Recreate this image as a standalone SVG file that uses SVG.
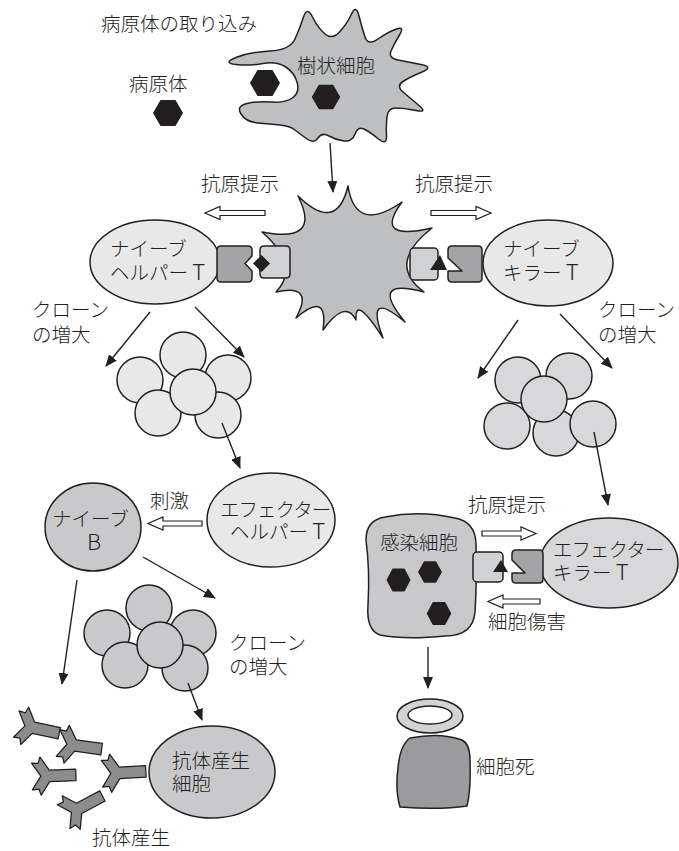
<svg xmlns="http://www.w3.org/2000/svg" xmlns:xlink="http://www.w3.org/1999/xlink" width="679" height="851" viewBox="0 0 679 851">
  <style>
    .ol { stroke: #231f20; stroke-width: 1.5; stroke-linejoin: round; }
    .lt { fill: #e8e8e9; }
    .md { fill: #d8d8da; }
    .gr { fill: #c9c9cb; }
    .apc { fill: #bebfc1; }
    .rec { fill: #a4a4a6; }
    .box { fill: #d0d1d3; }
    .blk { fill: #231f20; }
    .hollow { fill: #ffffff; stroke: #231f20; stroke-width: 1.2; }
    .link { fill: none; stroke: #231f20; stroke-width: 1.4; marker-end: url(#ah); }
    .t { font-family: "Noto Sans CJK JP", "Noto Sans CJK SC", sans-serif; font-size: 19.5px; font-weight: 300; fill: #231f20; }
    .lat { font-size: 22px; }
    .narrow { letter-spacing: -1px; }
  </style>
  <defs>
    <marker id="ah" viewBox="0 0 12 10" refX="11" refY="5" markerWidth="12" markerHeight="10" orient="auto" markerUnits="userSpaceOnUse">
      <path d="M0,0 L12,5 L0,10 Z" fill="#231f20"/>
    </marker>
    <path id="hex" d="M-15,0 L-7.5,-13 L7.5,-13 L15,0 L7.5,13 L-7.5,13 Z" fill="#231f20"/>
    <path id="ab" d="M26,-5 L3,-5 L-4.7,-16.6 L-6.5,-11.25 L-12.2,-11.7 L-4.5,0 L-12.2,11.7 L-6.5,11.25 L-4.7,16.6 L3,5 L26,5 Z" fill="#8c8c8e" stroke="#231f20" stroke-width="1.1" stroke-linejoin="round"/>
  </defs>

  <!-- pathogen uptake -->
  <g id="uptake-label"><text class="t" x="101" y="31">病原体の取り込み</text></g>
  <g id="pathogen">
    <text class="t" x="129" y="91">病原体</text>
    <use href="#hex" transform="translate(168,113)"/>
  </g>

  <!-- dendritic cell engulfing a pathogen -->
  <g id="dendritic-cell">
    <path class="apc ol" d="M 236,64.5 Q 222,63 236,57.5 Q 250,52 270,51 Q 290,50 295,39 Q 300,28 303.5,17 Q 307,6 312.5,17 Q 318,28 325,34 Q 332,40 339.5,32 Q 347,24 351.5,14 Q 356,4 359,16 Q 362,28 365,37 Q 368,46 378,39 Q 388,32 396.5,29 Q 405,26 399.5,35 Q 394,44 391,51 Q 388,58 398,60 Q 408,62 421,64.5 Q 434,67 422,72 Q 410,77 403,81.5 Q 396,86 403,92 Q 410,98 419,105.5 Q 428,113 416,110.5 Q 404,108 396,108 Q 388,108 387,116.5 Q 386,125 386.5,135.5 Q 387,146 378.5,139 Q 370,132 364,129 Q 358,126 355,134 Q 352,142 344,141 Q 336,140 329,136 Q 322,132 318,138 Q 314,144 307,139 Q 300,134 295,130 Q 290,126 280,125 Q 270,124 258,123 Q 246,122 241,114 Q 236,106 247,103.5 Q 258,101 272,102 Q 286,103 293,97.5 Q 300,92 297,82 Q 294,72 285,66.5 Q 276,61 263,63.5 Q 250,66 236,64.5 Z"/>
    <use href="#hex" transform="translate(265,83)"/>
    <use href="#hex" transform="translate(326,97) scale(0.95)"/>
    <text class="t" x="297" y="73">樹状細胞</text>
  </g>

  <!-- antigen presenting cell -->
  <g id="apc">
    <path class="apc ol" d="M 348,186 Q 355.6,234.2 402,202 Q 372.4,241.8 432,228 Q 386,264 424,292 Q 367.7,277 405,322 Q 364.2,287.8 383,338 Q 354.3,293.4 356,320 Q 345.3,298.8 323,330 Q 328.5,290 296,318 Q 315,283.6 276,292 Q 301,266 262,232 Q 322.2,243.8 298,196 Q 336.6,233.6 348,186 Z"/>
    <path class="box ol" d="M 264,246 H 286 Q 290,246 290,250 V 274 Q 290,278 286,278 H 264 Q 260,278 260,274 V 270 L 266,263 L 260,256 V 250 Q 260,246 264,246 Z"/>
    <path class="blk" d="M253,263.5 L261.5,255 L270,263.5 L261.5,272 Z"/>
    <rect class="box ol" x="410" y="248" width="28" height="32" rx="4"/>
    <path class="blk" d="M430,270 L440,255 L447,270 Z"/>
  </g>

  <!-- naive helper T -->
  <g id="naive-helper-t">
    <ellipse class="lt ol" cx="155" cy="262" rx="65" ry="42"/>
    <path class="rec ol" d="M 221,246 H 248 Q 252,246 252,250 V 256 L 245,263.5 L 252,271 V 278 Q 252,282 248,282 H 221 Q 217,282 217,278 V 250 Q 217,246 221,246 Z"/>
    <text class="t"><tspan x="110" y="256">ナイーブ</tspan><tspan x="110" y="280">ヘルパー <tspan class="lat">T</tspan></tspan></text>
  </g>

  <!-- naive killer T -->
  <g id="naive-killer-t">
    <ellipse class="lt ol" cx="548" cy="263" rx="65" ry="43"/>
    <path class="rec ol" d="M 452,246 H 478 Q 482,246 482,250 V 278 Q 482,282 478,282 H 452 Q 448,282 448,278 V 271 H 462 L 448,258 V 250 Q 448,246 452,246 Z"/>
    <text class="t"><tspan x="503" y="256">ナイーブ</tspan><tspan x="503" y="280">キラー <tspan class="lat">T</tspan></tspan></text>
  </g>

  <!-- helper T clones -->
  <g id="helper-clones" class="lt ol">
    <circle cx="183" cy="355" r="23"/>
    <circle cx="140" cy="380" r="23"/>
    <circle cx="228" cy="378" r="23"/>
    <circle cx="158" cy="413" r="23"/>
    <circle cx="218" cy="415" r="23"/>
    <circle cx="193" cy="392" r="23"/>
  </g>
  <g id="helper-clone-label">
    <text class="t"><tspan x="32" y="317">クローン</tspan><tspan x="32" y="342">の増大</tspan></text>
  </g>

  <!-- killer T clones -->
  <g id="killer-clones" class="md ol">
    <circle cx="518" cy="380" r="23"/>
    <circle cx="569" cy="376" r="23"/>
    <circle cx="507" cy="426" r="23"/>
    <circle cx="556" cy="433" r="23"/>
    <circle cx="593" cy="424" r="23"/>
    <circle cx="544" cy="399" r="23"/>
  </g>
  <g id="killer-clone-label">
    <text class="t"><tspan x="598" y="317">クローン</tspan><tspan x="598" y="342">の増大</tspan></text>
  </g>

  <!-- effector helper T -->
  <g id="effector-helper-t">
    <ellipse class="lt ol" cx="271" cy="520" rx="64" ry="47"/>
    <text class="t"><tspan class="narrow" x="220" y="517">エフェクター</tspan><tspan x="230" y="539">ヘルパー <tspan class="lat">T</tspan></tspan></text>
  </g>

  <!-- naive B -->
  <g id="naive-b">
    <ellipse class="gr ol" cx="93" cy="527" rx="48" ry="44"/>
    <text class="t"><tspan x="52" y="526">ナイーブ</tspan><tspan class="lat" x="87" y="550">B</tspan></text>
  </g>
  <g id="stimulus-label"><text class="t" x="150" y="508">刺激</text></g>

  <!-- B clones -->
  <g id="b-clones" class="gr ol">
    <circle cx="149" cy="608" r="23"/>
    <circle cx="107" cy="633" r="23"/>
    <circle cx="193" cy="633" r="23"/>
    <circle cx="125" cy="665" r="23"/>
    <circle cx="185" cy="668" r="23"/>
    <circle cx="160" cy="645" r="23"/>
  </g>
  <g id="b-clone-label">
    <text class="t"><tspan x="229" y="650">クローン</tspan><tspan x="229" y="674">の増大</tspan></text>
  </g>

  <!-- antibody producing cell -->
  <g id="plasma-cell">
    <ellipse class="gr ol" cx="212" cy="772" rx="63" ry="46"/>
    <text class="t"><tspan x="172" y="768">抗体産生</tspan><tspan x="172" y="791">細胞</tspan></text>
  </g>

  <!-- antibodies -->
  <g id="antibodies">
    <use href="#ab" transform="translate(30,727) rotate(12) scale(1.15)"/>
    <use href="#ab" transform="translate(72,745) rotate(8) scale(1.15)"/>
    <use href="#ab" transform="translate(46,776) rotate(-2) scale(1.15)"/>
    <use href="#ab" transform="translate(116,773) rotate(-3) scale(1.15)"/>
    <use href="#ab" transform="translate(76,810) rotate(-28) scale(1.15)"/>
    <text class="t" x="92" y="845">抗体産生</text>
  </g>

  <!-- infected cell -->
  <g id="infected-cell">
    <path class="gr ol" d="M 385,517 Q 420,510 455,518 Q 476,522 476,545 Q 477,580 475,612 Q 473,636 445,636 Q 405,640 380,635 Q 366,630 368,605 Q 370,570 366,540 Q 366,520 385,517 Z"/>
    <text class="t" x="380" y="550">感染細胞</text>
    <use href="#hex" transform="translate(398.5,580) scale(0.8,0.88)"/>
    <use href="#hex" transform="translate(430,572) scale(0.8,0.82)"/>
    <use href="#hex" transform="translate(439,613.5) scale(0.82,0.88)"/>
    <rect class="box ol" x="473" y="552" width="30" height="30" rx="4"/>
    <path class="blk" d="M493,572 L501,560 L508,572 Z"/>
  </g>

  <!-- effector killer T -->
  <g id="effector-killer-t">
    <ellipse class="md ol" cx="609" cy="563" rx="69" ry="45"/>
    <path class="rec ol" d="M 516,550 H 539 Q 543,550 543,554 V 579 Q 543,583 539,583 H 516 Q 512,583 512,579 V 573 H 525 L 512,560 V 554 Q 512,550 516,550 Z"/>
    <text class="t"><tspan class="narrow" x="553" y="557">エフェクター</tspan><tspan x="553" y="580">キラー <tspan class="lat">T</tspan></tspan></text>
  </g>
  <g id="presentation-label-3"><text class="t" x="468" y="512">抗原提示</text></g>
  <g id="cytotoxic-label"><text class="t" x="488" y="629">細胞傷害</text></g>

  <!-- cell death -->
  <g id="dead-cell">
    <ellipse cx="430" cy="716" rx="33" ry="17" fill="#d3d3d4" class="ol"/>
    <ellipse cx="430" cy="715" rx="22" ry="9" fill="#ffffff" class="ol"/>
    <path fill="#9b9b9d" class="ol" d="M 410,738 Q 440,732 462,740 Q 470,744 470,760 Q 471,790 467,806 Q 440,810 400,807 Q 395,790 398,768 Q 400,745 410,738 Z"/>
    <text class="t" x="476" y="774">細胞死</text>
  </g>

  <!-- presentation labels -->
  <g id="presentation-label-1"><text class="t" x="201" y="191">抗原提示</text></g>
  <g id="presentation-label-2"><text class="t" x="415" y="191">抗原提示</text></g>

  <!-- connectors -->
  <g id="connectors">
    <line class="link" x1="330" y1="143" x2="333" y2="192"/>
    <line class="link" x1="150" y1="312" x2="106" y2="366"/>
    <line class="link" x1="195" y1="307" x2="244" y2="357"/>
    <line class="link" x1="222" y1="423" x2="240" y2="468"/>
    <line class="link" x1="143" y1="557" x2="215" y2="598"/>
    <line class="link" x1="77" y1="580" x2="62" y2="684"/>
    <line class="link" x1="188" y1="683" x2="202" y2="720"/>
    <line class="link" x1="518" y1="320" x2="478" y2="378"/>
    <line class="link" x1="560" y1="314" x2="612" y2="368"/>
    <line class="link" x1="594" y1="432" x2="608" y2="505"/>
    <line class="link" x1="428" y1="647" x2="428" y2="688"/>
    <!-- hollow signal arrows -->
    <path class="hollow" d="M265,210.5 L220,210.5 L220,206.5 L205,213 L220,219.5 L220,215.5 L265,215.5 Z"/>
    <path class="hollow" d="M431,210.5 L476,210.5 L476,206.5 L491,213 L476,219.5 L476,215.5 L431,215.5 Z"/>
    <path class="hollow" d="M202,521 L163,521 L163,517 L148,523.5 L163,530 L163,526 L202,526 Z"/>
    <path class="hollow" d="M482,531 L521,531 L521,527 L536,533.5 L521,540 L521,536 L482,536 Z"/>
    <path class="hollow" d="M540,599 L503,599 L503,595 L488,601.5 L503,608 L503,604 L540,604 Z"/>
  </g>
</svg>
